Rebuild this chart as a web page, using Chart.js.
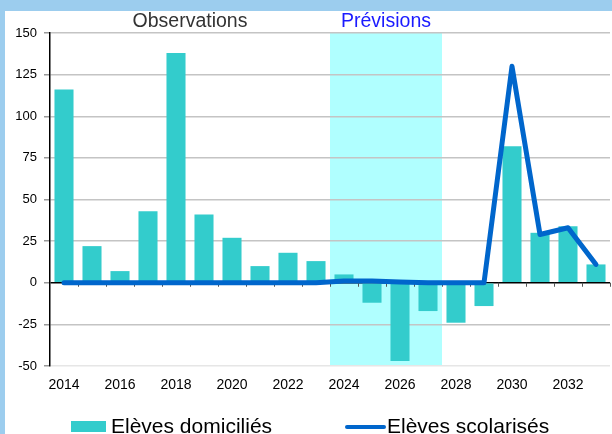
<!DOCTYPE html>
<html lang="fr">
<head>
<meta charset="utf-8">
<title>Elèves domiciliés et scolarisés</title>
<script src="https://cdn.jsdelivr.net/npm/chart.js@4"></script>
<style>
    html, body { margin: 0; padding: 0; overflow: hidden; background: #9ccdee; }
    #chartBox { position: absolute; left: 5px; top: 11px; width: 607px; height: 423px; background: #fff; }
</style>
</head>
<body>
<div id="chartBox"><canvas id="effectifsChart" width="607" height="423"></canvas></div>
<script>
(function() {
    'use strict';

    // --- Data ---
    const years = [2014, 2015, 2016, 2017, 2018, 2019, 2020, 2021, 2022, 2023,
                   2024, 2025, 2026, 2027, 2028, 2029, 2030, 2031, 2032, 2033];
    const elevesDomicilies = [116, 22, 7, 43, 138, 41, 27, 10, 18, 13,
                              5, -12, -47, -17, -24, -14, 82, 30, 34, 11];
    const elevesScolarises = [0, 0, 0, 0, 0, 0, 0, 0, 0, 0,
                              1, 1, 0.5, 0, 0, 0, 130, 29, 33, 11];
    const yTicks = [-50, -25, 0, 25, 50, 75, 100, 125, 150];
    const observationYears = [2014, 2023];
    const forecastYears = [2024, 2027];

    const FONT = '"Liberation Sans", Arial, sans-serif';

    // left / right edge of a span of years, in pixels
    function spanPixels(xScale, span) {
        const i0 = years.indexOf(span[0]);
        const i1 = years.indexOf(span[1]);
        const half = (xScale.getPixelForValue(1) - xScale.getPixelForValue(0)) / 2;
        return [xScale.getPixelForValue(i0) - half, xScale.getPixelForValue(i1) + half];
    }

    // --- Plugins ---
    // light cyan band behind the forecast years + headings above the plot
    const periodsPlugin = {
        id: 'periods',
        beforeDraw(chart) {
            const { ctx, chartArea, scales } = chart;
            const [x0, x1] = spanPixels(scales.x, forecastYears);
            ctx.save();
            ctx.fillStyle = '#b0ffff';
            ctx.fillRect(x0, chartArea.top, x1 - x0, chartArea.bottom - chartArea.top);
            ctx.restore();
        },
        afterDraw(chart) {
            const { ctx, scales } = chart;
            const obs = spanPixels(scales.x, observationYears);
            const prev = spanPixels(scales.x, forecastYears);
            ctx.save();
            ctx.font = '19.5px ' + FONT;
            ctx.textAlign = 'center';
            ctx.textBaseline = 'alphabetic';
            ctx.fillStyle = '#333333';
            ctx.fillText('Observations', (obs[0] + obs[1]) / 2, 16);
            ctx.fillStyle = '#1a1aff';
            ctx.fillText('Prévisions', (prev[0] + prev[1]) / 2, 16);
            ctx.restore();
        }
    };

    // small tick marks hanging under the zero line, between categories
    const zeroTicksPlugin = {
        id: 'zeroTicks',
        beforeDatasetsDraw(chart) {
            const { ctx, scales } = chart;
            const y0 = scales.y.getPixelForValue(0);
            const half = (scales.x.getPixelForValue(1) - scales.x.getPixelForValue(0)) / 2;
            ctx.save();
            ctx.strokeStyle = '#555';
            ctx.lineWidth = 1;
            ctx.beginPath();
            for (let i = 1; i <= years.length; i++) {
                const x = Math.round(scales.x.getPixelForValue(i) - half) + 0.5;
                ctx.moveTo(x, y0);
                ctx.lineTo(x, y0 + 4);
            }
            ctx.stroke();
            ctx.restore();
        }
    };

    // legend drawn at the foot of the chart (runs a little past the bottom edge)
    const footLegendPlugin = {
        id: 'footLegend',
        afterDraw(chart) {
            const { ctx } = chart;
            const [bars, line] = chart.data.datasets;
            ctx.save();
            ctx.font = '21px ' + FONT;
            ctx.textBaseline = 'alphabetic';
            ctx.textAlign = 'left';

            ctx.fillStyle = bars.backgroundColor;
            ctx.fillRect(66, 410, 35, 11);
            ctx.fillStyle = '#000';
            ctx.fillText(bars.label, 106, 422);

            ctx.strokeStyle = line.borderColor;
            ctx.lineWidth = 4;
            ctx.lineCap = 'round';
            ctx.beginPath();
            ctx.moveTo(342, 416);
            ctx.lineTo(379, 416);
            ctx.stroke();
            ctx.fillStyle = '#000';
            ctx.fillText(line.label, 382, 422);
            ctx.restore();
        }
    };

    // --- Chart ---
    function gridColor(ctx) {
        const v = ctx.tick && ctx.tick.value;
        if (v === 0) return '#000';
        if (v === -50) return '#e6e6e6';
        return '#c4c4c4';
    }

    const canvas = document.getElementById('effectifsChart');
    new Chart(canvas, {
        type: 'bar',
        data: {
            labels: years,
            datasets: [{
                label: 'Elèves domiciliés',
                data: elevesDomicilies,
                backgroundColor: '#33cccc',
                barPercentage: 0.68,
                categoryPercentage: 1.0,
                order: 1
            }, {
                type: 'line',
                label: 'Elèves scolarisés',
                data: elevesScolarises,
                borderColor: '#0066cc',
                borderWidth: 5,
                borderCapStyle: 'round',
                borderJoinStyle: 'round',
                pointRadius: 0,
                tension: 0,
                fill: false,
                order: 0
            }]
        },
        options: {
            responsive: false,
            animation: false,
            devicePixelRatio: 1,
            layout: { padding: { top: 22, right: 2, bottom: 0, left: 0 } },
            plugins: {
                legend: { display: false },
                tooltip: { enabled: false }
            },
            scales: {
                x: {
                    grid: { display: false },
                    border: { display: false },
                    ticks: {
                        autoSkip: false,
                        maxRotation: 0,
                        padding: 3,
                        color: '#000',
                        font: { family: FONT, size: 14 },
                        callback: function(value, index) {
                            return years[index] % 2 === 0 ? String(years[index]) : '';
                        }
                    },
                    afterFit: function(scale) { scale.height = 68; }
                },
                y: {
                    min: -50,
                    max: 150,
                    afterBuildTicks: function(scale) {
                        scale.ticks = yTicks.map(v => ({ value: v }));
                    },
                    grid: {
                        color: gridColor,
                        lineWidth: 1.5,
                        tickLength: 6,
                        tickColor: '#999'
                    },
                    border: { display: true, color: '#000', width: 1.5 },
                    ticks: {
                        padding: 7,
                        color: '#000',
                        font: { family: FONT, size: 13 }
                    },
                    afterFit: function(scale) { scale.width = 45; }
                }
            }
        },
        plugins: [periodsPlugin, zeroTicksPlugin, footLegendPlugin]
    });

})();
</script>
</body>
</html>
